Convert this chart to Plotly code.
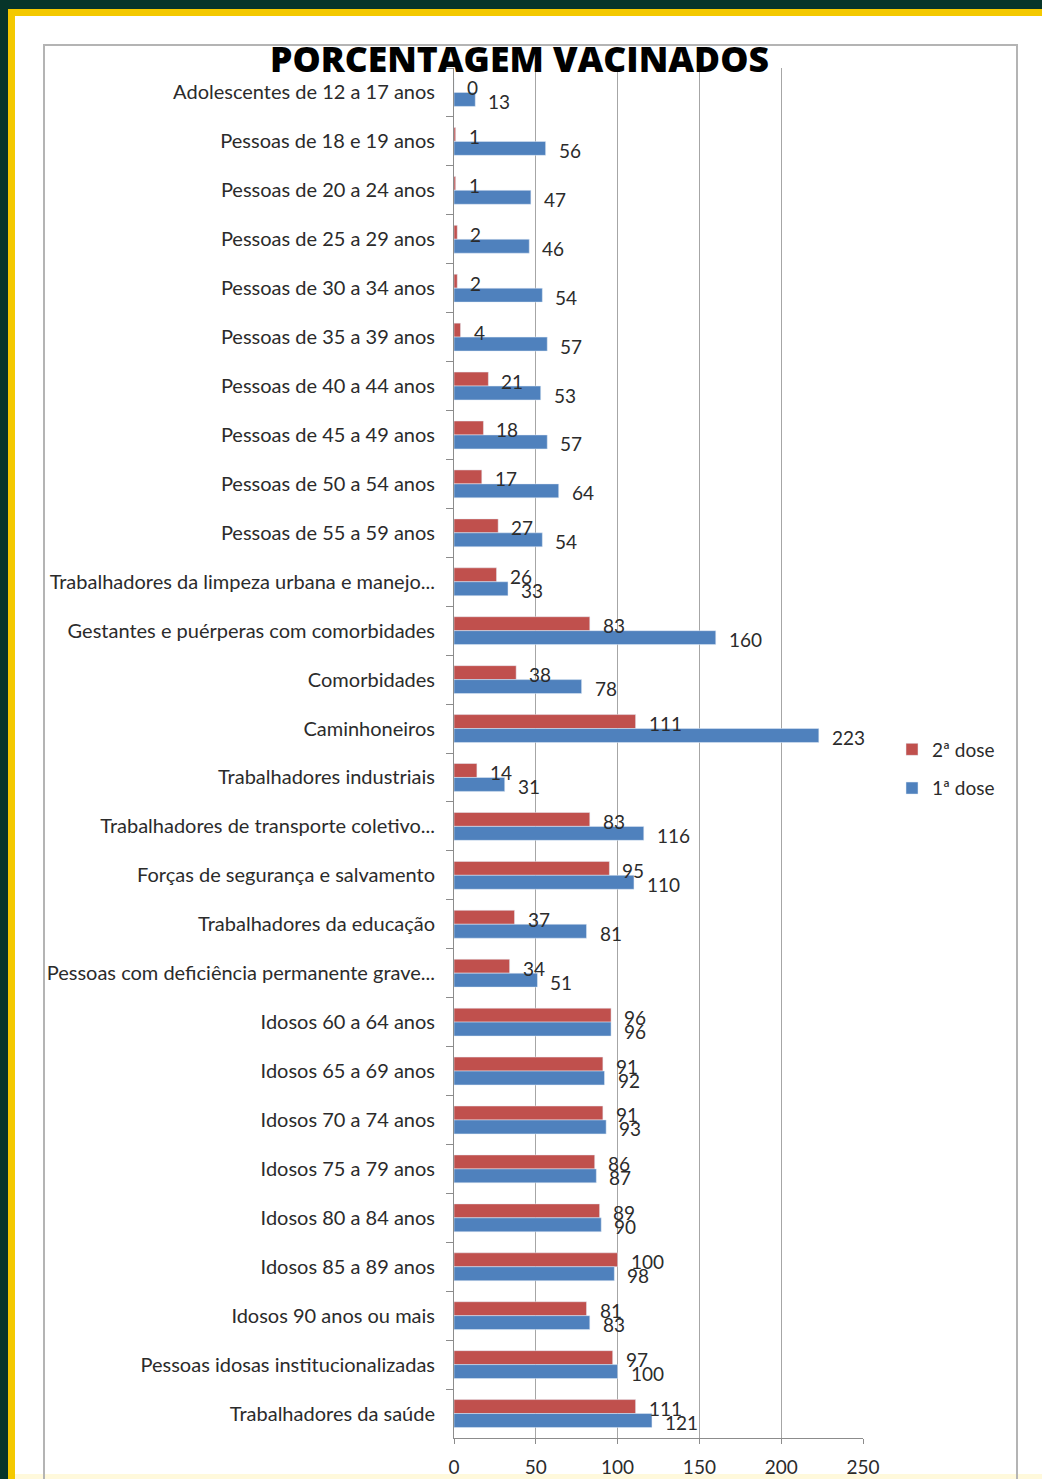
import plotly.graph_objects as go

categories = [
    "Adolescentes de 12 a 17 anos",
    "Pessoas de 18 e 19 anos",
    "Pessoas de 20 a 24 anos",
    "Pessoas de 25 a 29 anos",
    "Pessoas de 30 a 34 anos",
    "Pessoas de 35 a 39 anos",
    "Pessoas de 40 a 44 anos",
    "Pessoas de 45 a 49 anos",
    "Pessoas de 50 a 54 anos",
    "Pessoas de 55 a 59 anos",
    "Trabalhadores da limpeza urbana e manejo...",
    "Gestantes e puérperas com comorbidades",
    "Comorbidades",
    "Caminhoneiros",
    "Trabalhadores industriais",
    "Trabalhadores de transporte coletivo...",
    "Forças de segurança e salvamento",
    "Trabalhadores da educação",
    "Pessoas com deficiência permanente grave...",
    "Idosos 60 a 64 anos",
    "Idosos 65 a 69 anos",
    "Idosos 70 a 74 anos",
    "Idosos 75 a 79 anos",
    "Idosos 80 a 84 anos",
    "Idosos 85 a 89 anos",
    "Idosos 90 anos ou mais",
    "Pessoas idosas institucionalizadas",
    "Trabalhadores da saúde",
]
dose2 = [0, 1, 1, 2, 2, 4, 21, 18, 17, 27, 26, 83, 38, 111, 14, 83, 95, 37, 34,
         96, 91, 91, 86, 89, 100, 81, 97, 111]
dose1 = [13, 56, 47, 46, 54, 57, 53, 57, 64, 54, 33, 160, 78, 223, 31, 116, 110, 81, 51,
         96, 92, 93, 87, 90, 98, 83, 100, 121]
series_names = ["2ª dose", "1ª dose"]
x_ticks = [0, 50, 100, 150, 200, 250]
title_text = "PORCENTAGEM VACINADOS"

W, H = 1042, 1479
L, R, T, B = 454, 863, 68, 1438

def px(x):
    return (x - L) / (R - L)

def py(y):
    return (B - y) / (B - T)

RED = "#C0504D"
BLUE = "#4F81BD"
TXT = "#2b2b2b"
FONT = "Lato"

fig = go.Figure()
fig.add_trace(go.Bar(y=categories, x=dose2, orientation="h", name=series_names[0],
                     marker=dict(color=RED), legendgroup="a"))
fig.add_trace(go.Bar(y=categories, x=dose1, orientation="h", name=series_names[1],
                     marker=dict(color=BLUE), legendgroup="b"))

annotations = []
for vals, ysh in ((dose2, 5), (dose1, -9)):
    for c, v in zip(categories, vals):
        annotations.append(dict(x=v, y=c, xref="x", yref="y", text=str(v),
                                showarrow=False, xanchor="left", yanchor="middle",
                                xshift=11, yshift=ysh,
                                font=dict(family=FONT, size=19, color=TXT)))
annotations.append(dict(x=px(519), y=py(58), xref="paper", yref="paper", text=title_text,
                        showarrow=False, xanchor="center", yanchor="middle",
                        font=dict(family="Open Sans", size=35.5, color="#000000", weight=800)))

shapes = [
    # dark green frame (top and left)
    dict(type="rect", xref="paper", yref="paper", x0=px(0), x1=px(W), y0=py(0), y1=py(9),
         fillcolor="#07352A", line=dict(width=0), layer="below"),
    dict(type="rect", xref="paper", yref="paper", x0=px(0), x1=px(8), y0=py(0), y1=py(H),
         fillcolor="#07352A", line=dict(width=0), layer="below"),
    # yellow stripe
    dict(type="rect", xref="paper", yref="paper", x0=px(8), x1=px(W), y0=py(9), y1=py(16),
         fillcolor="#F4C900", line=dict(width=0), layer="below"),
    dict(type="rect", xref="paper", yref="paper", x0=px(8), x1=px(15), y0=py(9), y1=py(H),
         fillcolor="#F4C900", line=dict(width=0), layer="below"),
    dict(type="rect", xref="paper", yref="paper", x0=px(15), x1=px(W), y0=py(1474), y1=py(H),
         fillcolor="#FFF9DC", line=dict(width=0), layer="below"),
    # chart outer border
    dict(type="rect", xref="paper", yref="paper", x0=px(44), x1=px(1017), y0=py(45), y1=py(H + 20),
         fillcolor="rgba(0,0,0,0)", line=dict(color="#B4B4B4", width=2), layer="below"),
]

fig.update_layout(
    width=W, height=H,
    margin=dict(l=L, r=W - R, t=T, b=H - B, pad=0, autoexpand=False),
    paper_bgcolor="white", plot_bgcolor="white",
    barmode="group", bargap=0.43, bargroupgap=0,
    font=dict(family=FONT, size=20, color=TXT),
    showlegend=True,
    legend=dict(x=px(892), y=py(769), xanchor="left", yanchor="middle",
                xref="paper", yref="paper", traceorder="grouped", tracegroupgap=11,
                font=dict(family=FONT, size=19, color=TXT), bgcolor="rgba(0,0,0,0)"),
    annotations=annotations,
    shapes=shapes,
)
fig.update_yaxes(autorange="reversed", type="category", showline=True, linecolor="#8C8C8C",
                 linewidth=1, ticks="outside", tickson="boundaries", ticklen=7,
                 tickcolor="#8C8C8C", ticklabelstandoff=14, showgrid=False, automargin=False,
                 tickfont=dict(family=FONT, size=20, color=TXT))
fig.update_xaxes(range=[0, 250], tickvals=x_ticks, showgrid=True, gridcolor="#A6A6A6",
                 gridwidth=1, showline=True, linecolor="#8C8C8C", linewidth=1,
                 ticks="outside", ticklen=5, tickcolor="#8C8C8C", zeroline=False,
                 automargin=False,
                 tickfont=dict(family=FONT, size=19, color=TXT), ticklabelstandoff=7)

fig.write_html("out.html", config={"displayModeBar": False},
               post_script="document.body.style.margin='0px';")
